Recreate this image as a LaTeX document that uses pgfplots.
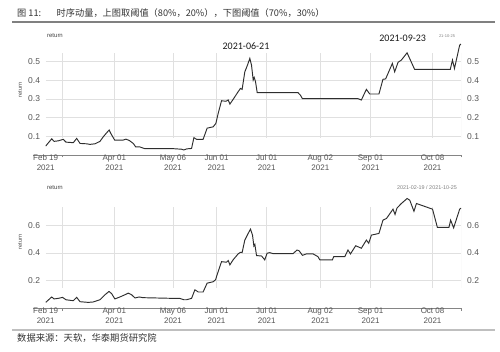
\documentclass[border=0pt]{standalone}
\usepackage{fontspec}
\setmainfont{Liberation Sans}
\newfontfamily\cjk{Noto Sans CJK SC}
\newfontfamily\calfont{Carlito}
\usepackage{pgfplots}
\usepackage{pgfplotstable}
\pgfplotsset{compat=1.18}
\definecolor{ln}{HTML}{2E2E2E}
\definecolor{grd}{HTML}{E0E0E0}
\definecolor{tk}{HTML}{555555}
\definecolor{axc}{HTML}{858585}

\pgfplotstableread{
d v
0 0.048
3.6 0.087
5.0 0.073
7.5 0.076
10.5 0.084
12.1 0.069
16.5 0.066
18.5 0.089
20.5 0.062
24.5 0.060
26.4 0.057
29.4 0.060
32.4 0.073
34.4 0.098
36.4 0.119
37.9 0.134
39.1 0.112
41.2 0.080
46.3 0.080
47.9 0.085
49.9 0.078
52.3 0.062
53.7 0.044
56.3 0.043
59.2 0.034
76.1 0.034
81.1 0.031
82.5 0.027
84.3 0.033
87.1 0.035
88.5 0.093
90.1 0.084
94.0 0.084
96.4 0.144
100.0 0.151
101.6 0.169
103.0 0.223
105.0 0.291
107.6 0.288
109.0 0.295
110.0 0.273
111.9 0.298
114.9 0.339
116.3 0.357
117.3 0.352
118.9 0.446
120.5 0.482
121.9 0.518
122.9 0.482
123.9 0.402
124.5 0.416
125.3 0.393
126.3 0.334
150.7 0.334
152.1 0.321
153.3 0.302
186.5 0.302
188.5 0.295
191.5 0.352
193.5 0.327
199.0 0.327
201.4 0.406
203.0 0.408
207.0 0.491
208.4 0.446
210.4 0.497
212.4 0.509
215.8 0.548
220.3 0.459
241.6 0.459
242.9 0.509
244.1 0.464
247.2 0.589
248 0.595
}\topdata

\pgfplotstableread{
d v
0 0.042
3.6 0.081
5.0 0.067
7.5 0.071
10.1 0.078
12.1 0.061
16.5 0.054
18.5 0.078
20.5 0.047
25.4 0.042
28.4 0.045
32.4 0.061
35.4 0.097
37.8 0.121
39.4 0.105
41.3 0.067
44.3 0.081
47.3 0.097
49.3 0.109
51.3 0.097
53.3 0.074
55.8 0.081
58.2 0.076
76.1 0.071
80.1 0.071
82.5 0.061
84.1 0.061
87.1 0.071
89.1 0.133
91.1 0.117
94.0 0.117
96.4 0.181
100.0 0.191
101.4 0.205
103.0 0.265
105.0 0.336
108.0 0.332
109.0 0.344
110.0 0.313
111.9 0.349
114.9 0.392
116.3 0.404
117.3 0.402
118.9 0.492
120.9 0.540
122.3 0.571
123.5 0.528
124.3 0.449
124.9 0.461
125.9 0.380
128.9 0.377
130.8 0.349
132.2 0.397
133.8 0.401
135.8 0.394
147.7 0.394
150.1 0.420
151.3 0.415
153.3 0.382
155.7 0.392
159.7 0.392
162.6 0.372
163.7 0.349
171.2 0.349
172.0 0.372
178.6 0.372
180.5 0.420
182.0 0.392
185.1 0.451
188.5 0.433
191.5 0.492
192.9 0.469
194.5 0.528
196.5 0.533
199.0 0.540
201.4 0.636
203.5 0.648
207.4 0.715
208.6 0.677
209.8 0.724
212.4 0.756
215.8 0.792
217.4 0.780
219.9 0.700
221.4 0.756
231.0 0.715
233.9 0.583
240.8 0.583
241.8 0.636
243.6 0.580
247.2 0.715
248 0.722
}\botdata

\pgfplotsset{
  panel/.style={
    scale only axis, width=415.3pt,
    xmin=0, xmax=248,
    axis x line*=bottom, axis y line*=left,
    y axis line style={draw=none},
    x axis line style={draw=axc, line width=0.8pt, shorten <=-12.7pt},
    ytick style={draw=none},
    xtick style={draw=none},
    ymajorgrids, major grid style={grd, line width=0.6pt},
    xtick={0,41,76,102,132,164,194,231},
    xticklabels={{\strut Feb 19\\\strut 2021},{\strut Apr 01\\\strut 2021},{\strut May 06\\\strut 2021},{\strut Jun 01\\\strut 2021},{\strut Jul 01\\\strut 2021},{\strut Aug 02\\\strut 2021},{\strut Sep 01\\\strut 2021},{\strut Oct 08\\\strut 2021}},
    xticklabel style={align=center, inner sep=0pt, yshift=1.6pt, text=tk, font=\fontsize{8}{9.7}\selectfont},
    yticklabel style={inner sep=0pt, xshift=-5.5pt, text=tk, font=\fontsize{8.5}{10}\selectfont,
      /pgf/number format/fixed, /pgf/number format/precision=1, /pgf/number format/fixed zerofill},
    /pgf/number format/assume math mode=true,
    extra x ticks={10,248}, extra x tick labels={},
    extra x tick style={grid=none, major tick length=2.5pt, tick align=outside, xtick style={draw=axc, line width=0.5pt}},
  },
  rpanel/.style={
    scale only axis, width=415.3pt,
    xmin=0, xmax=248,
    hide x axis, axis y line*=right,
    y axis line style={draw=none}, ytick style={draw=none},
    yticklabel style={inner sep=0pt, xshift=6pt, text=tk, font=\fontsize{8.5}{10}\selectfont,
      /pgf/number format/fixed, /pgf/number format/precision=1, /pgf/number format/fixed zerofill},
    /pgf/number format/assume math mode=true,
  }
}

\begin{document}
\begin{tikzpicture}[x=1pt,y=1pt]
\path[use as bounding box] (0,0) rectangle (500,351);

% title
\node[anchor=west, inner sep=0pt, text=black!80, font=\cjk\fontsize{9.2}{11}\selectfont] at (17,338) {图 11:};
\node[anchor=west, inner sep=0pt, text=black!80, font=\cjk\fontsize{9.2}{11}\selectfont] at (56.5,338) {时序动量，上图取阈值（80\%，20\%），下图阈值（70\%，30\%）};
\draw[color=black!50, line width=1.2pt] (12,329) -- (495,329);

% top panel
\begin{axis}[panel, at={(45.7pt,196pt)}, anchor=south west, height=111.9pt,
  ymin=0, ymax=0.6, ytick={0.1,0.2,0.3,0.4,0.5}]
\pgfplotsinvokeforeach{10,41,76,102,132,164,194,231,248}{
  \draw[grd, line width=0.6pt] (axis cs:#1,0.091) -- (axis cs:#1,0.547);
}
\addplot[ln, line width=0.95pt, mark=none] table[x=d, y=v] {\topdata};
\end{axis}
\begin{axis}[rpanel, at={(45.7pt,196pt)}, anchor=south west, height=111.9pt,
  ymin=0, ymax=0.6, ytick={0.1,0.2,0.3,0.4,0.5}]
\end{axis}

\node[font=\fontsize{6}{7}\selectfont, text=black!75] at (55,315) {return};
\node[rotate=90, font=\fontsize{5.5}{6}\selectfont, text=black!75] at (20,261) {return};
\node[font=\calfont\fontsize{10}{12}\selectfont, text=black!90] at (246,305.3) {2021-06-21};
\node[font=\calfont\fontsize{10}{12}\selectfont, text=black!90] at (402.7,312.7) {2021-09-23};
\node[font=\fontsize{4}{5}\selectfont, text=black!50] at (447,315) {21-10-25};

% bottom panel
\begin{axis}[panel, at={(45.7pt,42.8pt)}, anchor=south west, height=110.8pt,
  ymin=0, ymax=0.8, ytick={0.2,0.4,0.6}]
\pgfplotsinvokeforeach{10,41,76,102,132,164,194,231,248}{
  \draw[grd, line width=0.6pt] (axis cs:#1,0.148) -- (axis cs:#1,0.731);
}
\addplot[ln, line width=0.95pt, mark=none] table[x=d, y=v] {\botdata};
\end{axis}
\begin{axis}[rpanel, at={(45.7pt,42.8pt)}, anchor=south west, height=110.8pt,
  ymin=0, ymax=0.8, ytick={0.2,0.4,0.6}]
\end{axis}

\node[font=\fontsize{6}{7}\selectfont, text=black!75] at (55,163) {return};
\node[rotate=90, font=\fontsize{5.5}{6}\selectfont, text=black!75] at (20,109) {return};
\node[font=\fontsize{5.4}{6}\selectfont, text=black!50] at (427,163) {2021-02-19 / 2021-10-25};

% source
\draw[color=black!25, line width=1.2pt] (12,21) -- (495,21);
\node[anchor=west, inner sep=0pt, text=black!80, font=\cjk\fontsize{9.3}{11}\selectfont] at (17,12.7) {数据来源：天软，华泰期货研究院};
\end{tikzpicture}
\end{document}
